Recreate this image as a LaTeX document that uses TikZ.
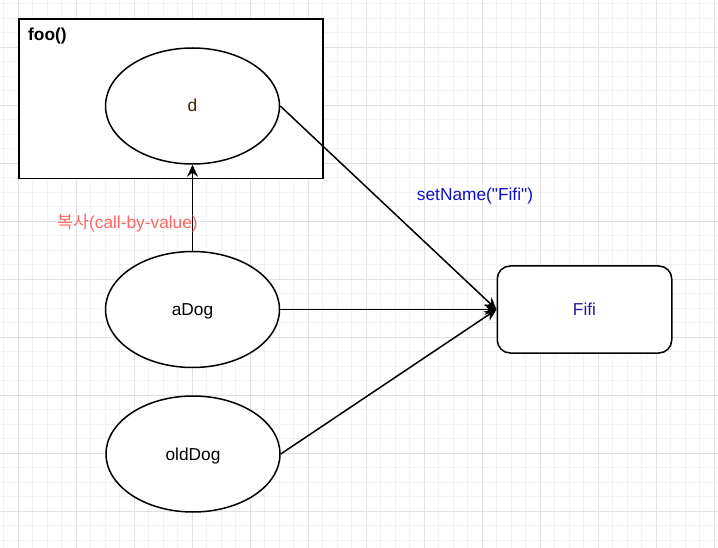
\documentclass[tikz,border=0pt]{standalone}
\usepackage{fontspec}
\setmainfont{Liberation Sans}[Ligatures=TeXOff]
\newfontfamily\krfont{Noto Sans CJK KR}
\usetikzlibrary{shapes.geometric,arrows.meta}
\definecolor{gridminor}{HTML}{F2F2F2}
\definecolor{gridmajor}{HTML}{E0E0E0}
\definecolor{dcol}{HTML}{3A2000}
\definecolor{fificol}{HTML}{2A1A9A}
\definecolor{setcol}{HTML}{1010CC}
\definecolor{copycol}{HTML}{FF6666}
\tikzset{
  txt/.style={font=\fontsize{17.3}{20}\selectfont, inner sep=0pt, text height=15.7pt, text depth=3.7pt},
  varell/.style={ellipse, draw=black, line width=1.5pt, fill=white, minimum width=174pt, minimum height=116pt, inner sep=0pt, txt},
  objbox/.style={rectangle, rounded corners=13pt, draw=black, line width=1.5pt, fill=white, minimum width=174.5pt, minimum height=87pt, inner sep=0pt, txt},
  conn/.style={draw=black, line width=1.5pt, -{Stealth[length=12pt,width=11pt,inset=4pt]}},
}
\begin{document}
\begin{tikzpicture}[x=1pt,y=-1pt]
\useasboundingbox (0,0) rectangle (718,548);
\fill[white] (0,0) rectangle (718,548);
% grid
\foreach \x in {3.8,18.3,...,718} \draw[gridminor, line width=1pt] (\x,0) -- (\x,548);
\foreach \y in {3.8,18.3,...,548} \draw[gridminor, line width=1pt] (0,\y) -- (718,\y);
\foreach \x in {18.3,76.3,...,718} \draw[gridmajor, line width=1pt] (\x,0) -- (\x,548);
\foreach \y in {47.3,105.3,...,548} \draw[gridmajor, line width=1pt] (0,\y) -- (718,\y);
% foo() frame
\node[draw=black, line width=1.5pt, fill=white, minimum width=304pt, minimum height=159.3pt, inner sep=0pt] (foo) at (171,98.7) {};
\node[txt, anchor=west, font=\fontsize{17.3}{20}\selectfont\bfseries] (footitle) at (28,35) {foo()};
% variables
\node[varell, text=dcol] (d) at (192.5,106) {d};
\node[varell] (adog) at (192.5,309.5) {aDog};
\node[varell] (olddog) at (193,454) {oldDog};
\node[objbox, text=fificol] (fifi) at (584.5,309.5) {Fifi};
% connectors
\draw[conn] (adog.north) -- (d.south);
\draw[conn] (d.east) -- (fifi.west);
\draw[conn] (adog.east) -- (fifi.west);
\draw[conn] (olddog.east) -- (fifi.west);
% labels
\node[txt, text=copycol] (copylbl) at (127.5,223) {{\krfont 복사}(call-by-value)};
\node[txt, text=setcol] (setlbl) at (475,195) {setName("Fifi")};
\end{tikzpicture}
\end{document}
